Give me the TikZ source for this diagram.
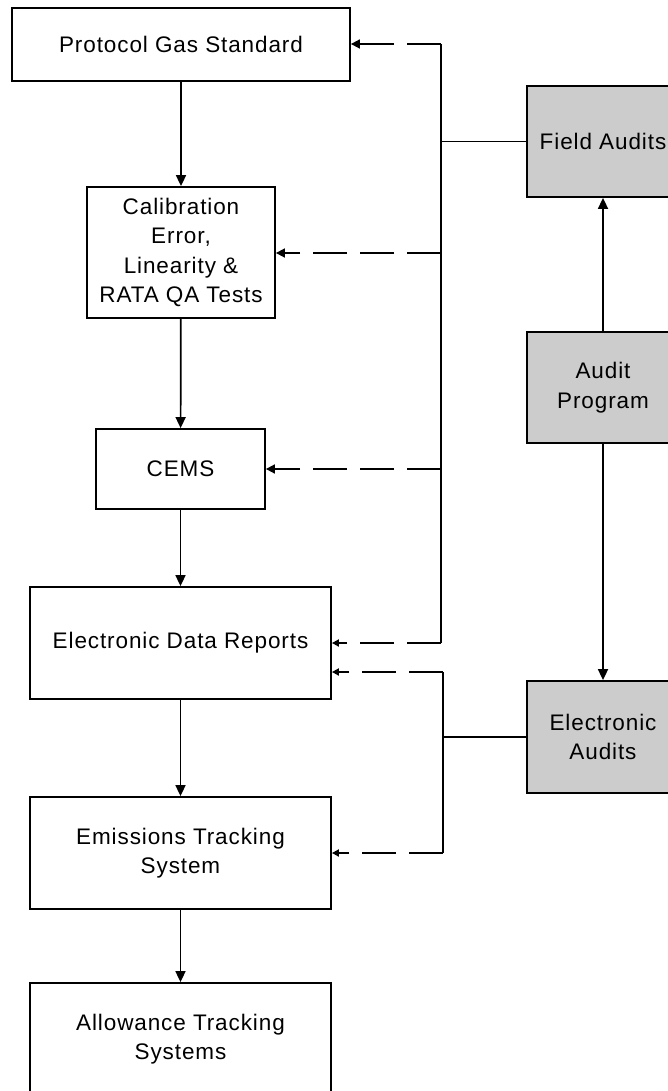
\documentclass[tikz,border=0pt]{standalone}
\usepackage{fontspec}
\setmainfont{Liberation Sans}[LetterSpace=4.0]
\usetikzlibrary{arrows.meta}
\definecolor{boxgray}{RGB}{204,204,204}
\begin{document}
\begin{tikzpicture}[x=1pt,y=-1pt,
  every node/.style={font=\fontsize{22.5}{29.5}\selectfont},
  box/.style={draw=black, line width=1.8pt, fill=white, inner sep=0pt, align=center},
  graybox/.style={box, fill=boxgray},
  flow/.style={line width=1.7pt, -{Triangle[length=11pt,width=10pt]}},
  link/.style={line width=1.7pt},
  audit/.style={line width=1.7pt, dash pattern=on 34pt off 13pt, -{Triangle[length=9pt,width=9pt]}},
  audits/.style={line width=1.7pt, dash pattern=on 34pt off 13pt, -{Triangle[length=7pt,width=7pt]}}]
\clip (0,0) rectangle (668,1091);
\fill[white] (0,0) rectangle (668,1091);

% left column
\node[box, minimum width=338pt, minimum height=73pt] (pgs) at (181,44.5) {Protocol Gas Standard};
\node[box, minimum width=188pt, minimum height=131pt] (cal) at (181,252.5) {Calibration\\Error,\\Linearity \&\\RATA QA Tests};
\node[box, minimum width=169pt, minimum height=80pt] (cems) at (180.5,469) {CEMS};
\node[box, minimum width=301pt, minimum height=112pt] (edr) at (180.5,643) {Electronic Data Reports};
\node[box, minimum width=301pt, minimum height=112pt] (ets) at (180.5,853) {Emissions Tracking\\System};
\node[box, minimum width=301pt, minimum height=112pt] (ats) at (180.5,1039) {Allowance Tracking\\Systems};

% right column
\node[graybox, minimum width=152pt, minimum height=111pt] (fa) at (603,141.5) {Field Audits};
\node[graybox, minimum width=152pt, minimum height=111pt] (ap) at (603,387.5) {Audit\\Program};
\node[graybox, minimum width=152pt, minimum height=112pt] (ea) at (603,737) {Electronic\\Audits};

% main flow
\draw[flow] (pgs) -- (cal);
\draw[flow] (cal) -- (cems);
\draw[flow] (cems) -- (edr);
\draw[flow] (edr) -- (ets);
\draw[flow] (ets) -- (ats);
\draw[flow] (ap) -- (fa);
\draw[flow] (ap) -- (ea);

% field audit branches
\coordinate (fj) at (441,141.5);
\coordinate (f1) at (441,44);
\coordinate (f2) at (441,253);
\coordinate (f3) at (441,469);
\coordinate (f4) at (441,643);
\draw[link] (fa.west) -- (fj);
\draw[link] (f1) -- (f4);
\draw[audit] (f1) -- (pgs.east |- f1);
\draw[audit] (f2) -- (cal.east |- f2);
\draw[audit] (f3) -- (cems.east |- f3);
\draw[audits] (f4) -- (edr.east |- f4);

% electronic audit branches
\coordinate (ej) at (443,737);
\coordinate (e1) at (443,672);
\coordinate (e2) at (443,853);
\draw[link] (ea.west) -- (ej);
\draw[link] (e1) -- (e2);
\draw[audits] (e1) -- (edr.east |- e1);
\draw[audits] (e2) -- (ets.east |- e2);
\end{tikzpicture}
\end{document}
